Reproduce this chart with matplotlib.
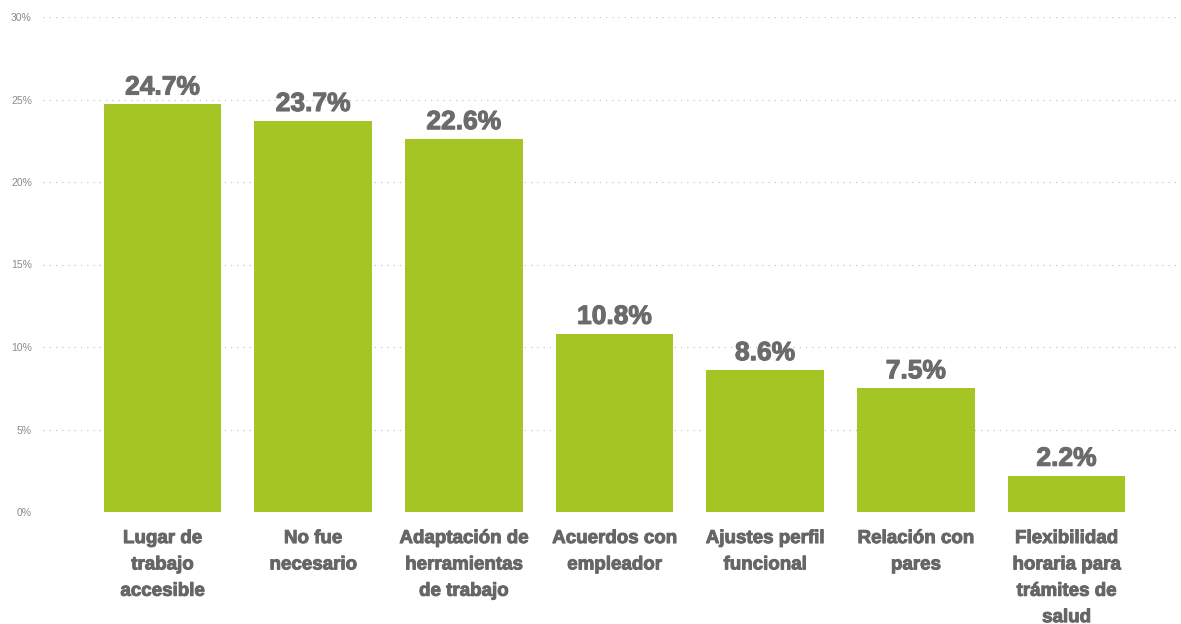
import matplotlib.pyplot as plt
import matplotlib.patheffects as pe
from matplotlib.ticker import FuncFormatter

categories = [
    "Lugar de\ntrabajo\naccesible",
    "No fue\nnecesario",
    "Adaptación de\nherramientas\nde trabajo",
    "Acuerdos con\nempleador",
    "Ajustes perfil\nfuncional",
    "Relación con\npares",
    "Flexibilidad\nhoraria para\ntrámites de\nsalud",
]
values = [24.7, 23.7, 22.6, 10.8, 8.6, 7.5, 2.2]
yticks = [0, 5, 10, 15, 20, 25, 30]

plt.rcParams['font.family'] = ['Liberation Sans', 'DejaVu Sans']

fig = plt.figure(figsize=(11.81, 6.24), dpi=100)
ax = fig.add_axes([43 / 1181, 112 / 624, 1 - 43 / 1181, 495 / 624])

x = range(len(values))
bars = ax.bar(x, values, width=0.78, color='#A5C525', zorder=2)

# heavier look for the bold labels
heavy = [pe.withStroke(linewidth=0.8, foreground='#6b6b6b')]

for b, v in zip(bars, values):
    ax.text(b.get_x() + b.get_width() / 2, v + 0.3, f"{v:.1f}%",
            ha='center', va='bottom', fontsize=19, fontweight='bold',
            color='#6b6b6b', path_effects=heavy)

ax.set_xlim(-0.793, 6.76)
ax.set_ylim(0, 30)
ax.set_yticks(yticks)
ax.yaxis.set_major_formatter(FuncFormatter(lambda v, p: f"{v:.0f}%"))
ax.tick_params(axis='y', length=0, labelsize=7.5, labelcolor='#8a8a8a', pad=8)
ax.set_xticks(list(x))
ax.set_xticklabels(categories, fontsize=13.5, fontweight='bold',
                   color='#666666', linespacing=1.72)
for t in ax.get_xticklabels():
    t.set_path_effects([pe.withStroke(linewidth=0.7, foreground='#666666')])
ax.tick_params(axis='x', length=0, pad=13)

ax.grid(axis='y', linestyle=(0, (1, 4)), color='#c8c8c8', linewidth=0.9, zorder=0)
for s in ax.spines.values():
    s.set_visible(False)

fig.savefig('out.png', dpi=100)
